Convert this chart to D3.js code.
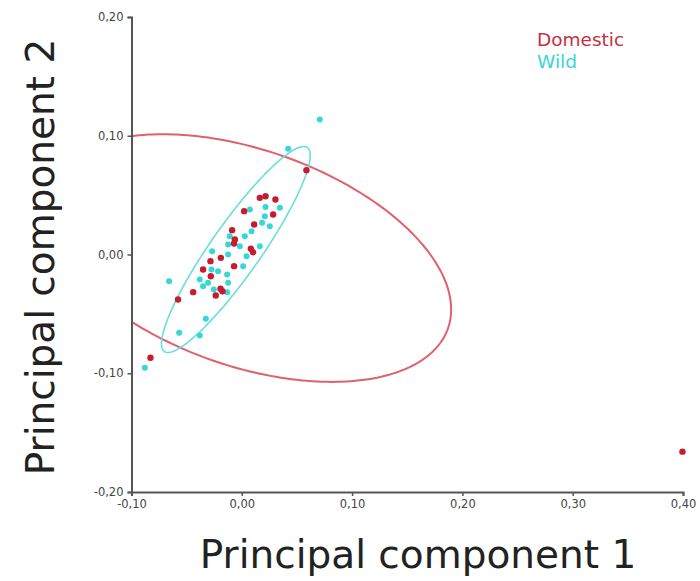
<!DOCTYPE html>
<html>
<head>
<meta charset="utf-8">
<script src="https://cdn.jsdelivr.net/npm/d3@7"></script>
<style>
  html, body { margin: 0; padding: 0; background: #fff; }
  svg { display: block; }
</style>
</head>
<body>
<svg id="chart" width="700" height="581"></svg>
<script>
// PCA scores: component 1 (x) and component 2 (y)
const domesticPC1 = [0.0586, 0.0163, 0.0215, 0.0305, 0.0021, 0.0284, 0.0112, -0.0088, -0.0063, -0.0070,
                     0.0082, 0.0102, -0.0190, -0.0284, -0.0351, -0.0281, -0.0070, -0.0193, -0.0175, -0.0236,
                     -0.0441, -0.0578, -0.0828, 0.3995];
const domesticPC2 = [0.0710, 0.0477, 0.0491, 0.0463, 0.0365, 0.0337, 0.0253, 0.0205, 0.0126, 0.0093,
                     0.0048, 0.0019, -0.0028, -0.0056, -0.0126, -0.0183, -0.0098, -0.0289, -0.0309, -0.0345,
                     -0.0317, -0.0379, -0.0870, -0.1660];

const wildPC1 = [0.0707, 0.0420, 0.0073, 0.0215, 0.0345, 0.0209, 0.0184, 0.0254, 0.0088, 0.0027,
                 -0.0109, 0.0163, -0.0124, -0.0018, -0.0124, 0.0043, -0.0269, -0.0275, -0.0215, 0.0012,
                 -0.0133, -0.0381, -0.0306, -0.0351, -0.0124, -0.0254, -0.0133, -0.0659, -0.0326, -0.0568,
                 -0.0381, -0.0879];
const wildPC2 = [0.1137, 0.0890, 0.0379, 0.0401, 0.0393, 0.0323, 0.0267, 0.0238, 0.0196, 0.0154,
                 0.0154, 0.0070, 0.0084, 0.0070, 0.0000, -0.0014, 0.0028, -0.0126, -0.0141, -0.0098,
                 -0.0168, -0.0211, -0.0238, -0.0267, -0.0238, -0.0295, -0.0317, -0.0225, -0.0542, -0.0659,
                 -0.0682, -0.0954];

// Group ellipses: centre and two conjugate semi-axis vectors, in score units
const domesticEllipse = { cx: 0.005, cy: -0.003, ax: 0.182, ay: -0.059, bx: 0.032, by: 0.086 };
const wildEllipse     = { cx: -0.0054, cy: 0.0042, ax: 0.0648, ay: 0.0859, bx: 0.0186, by: -0.0121 };

const xTicks = [-0.10, 0.00, 0.10, 0.20, 0.30, 0.40];
const yTicks = [-0.20, -0.10, 0.00, 0.10, 0.20];

const groups = ["Domestic", "Wild"];
const pointColor = { Domestic: "#c61c30", Wild: "#38d7d7" };
const labelColor = { Domestic: "#c8303e", Wild: "#3ad4d4" };
const ellipseColor = { Domestic: "#e0606c", Wild: "#6adede" };

const svg = d3.select("#chart");
const plotLeft = 131.5, plotRight = 683, plotTop = 17, plotBottom = 492;

const x = d3.scaleLinear().domain([-0.10, 0.40]).range([plotLeft, plotRight]);
const y = d3.scaleLinear().domain([-0.20, 0.20]).range([plotBottom, plotTop]);

const fmt = v => d3.format(".2f")(v).replace(".", ",").replace("−", "-");

svg.append("defs").append("clipPath").attr("id", "plot-clip")
  .append("rect").attr("x", plotLeft).attr("y", plotTop)
  .attr("width", plotRight - plotLeft).attr("height", plotBottom - plotTop);

// Ellipses
function ellipsePoints(e) {
  const n = 240;
  return d3.range(n).map(i => {
    const t = 2 * Math.PI * i / n;
    return [e.cx + e.ax * Math.cos(t) + e.bx * Math.sin(t),
            e.cy + e.ay * Math.cos(t) + e.by * Math.sin(t)];
  });
}
const ellLine = d3.line().x(d => x(d[0])).y(d => y(d[1])).curve(d3.curveLinearClosed);

const ellG = svg.append("g").attr("clip-path", "url(#plot-clip)");
ellG.append("path").attr("d", ellLine(ellipsePoints(domesticEllipse)))
  .attr("fill", "none").attr("stroke", ellipseColor.Domestic).attr("stroke-width", 2);
ellG.append("path").attr("d", ellLine(ellipsePoints(wildEllipse)))
  .attr("fill", "none").attr("stroke", ellipseColor.Wild).attr("stroke-width", 1.6);

// Axes
const xAxis = d3.axisBottom(x).tickValues(xTicks).tickFormat(fmt).tickSize(4).tickPadding(4);
const yAxis = d3.axisLeft(y).tickValues(yTicks).tickFormat(fmt).tickSize(4).tickPadding(4);

function styleAxis(g) {
  g.select(".domain").attr("stroke", "#555").attr("stroke-width", 2);
  g.selectAll(".tick line").attr("stroke", "#555").attr("stroke-width", 1.5);
  g.selectAll(".tick text").attr("fill", "#444")
    .style("font-family", "'DejaVu Sans', sans-serif").style("font-size", "11.5px");
}
svg.append("g").attr("transform", `translate(0,${plotBottom})`).call(xAxis).call(styleAxis);
svg.append("g").attr("transform", `translate(${plotLeft},0)`).call(yAxis).call(styleAxis);

// Points
const wild = wildPC1.map((v, i) => ({ pc1: v, pc2: wildPC2[i] }));
const domestic = domesticPC1.map((v, i) => ({ pc1: v, pc2: domesticPC2[i] }));

svg.append("g").selectAll("circle").data(wild).join("circle")
  .attr("cx", d => x(d.pc1)).attr("cy", d => y(d.pc2)).attr("r", 3)
  .attr("fill", pointColor.Wild);
svg.append("g").selectAll("circle").data(domestic).join("circle")
  .attr("cx", d => x(d.pc1)).attr("cy", d => y(d.pc2)).attr("r", 3.2)
  .attr("fill", pointColor.Domestic);

// Legend
const legend = svg.append("g").attr("transform", "translate(537,46)");
groups.forEach((g, i) => {
  legend.append("text").attr("x", 0).attr("y", i * 22).text(g)
    .attr("fill", labelColor[g])
    .style("font-family", "'DejaVu Sans', sans-serif").style("font-size", "18.5px");
});

// Axis titles
svg.append("text").attr("x", 418).attr("y", 568).attr("text-anchor", "middle")
  .text("Principal component 1").attr("fill", "#222")
  .style("font-family", "'DejaVu Sans', sans-serif").style("font-size", "39px");
svg.append("text").attr("transform", "translate(54,257) rotate(-90)").attr("text-anchor", "middle")
  .text("Principal component 2").attr("fill", "#222")
  .style("font-family", "'DejaVu Sans', sans-serif").style("font-size", "39px");
</script>
</body>
</html>
